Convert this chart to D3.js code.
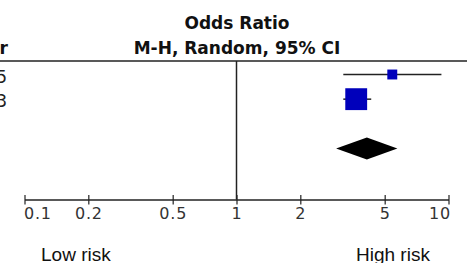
<!DOCTYPE html>
<html>
<head>
<meta charset="utf-8">
<script src="https://cdn.jsdelivr.net/npm/d3@7"></script>
<style>
  body { margin: 0; background: #fff; }
  svg { display: block; }
</style>
</head>
<body>
<svg id="chart" width="467" height="263"></svg>
<script>
// study rows
var years = ["2015", "2013"];
var oddsRatio = [5.43, 3.67];
var ciLow = [3.19, 3.19];
var ciHigh = [9.26, 4.32];
var weights = [17.1, 82.9];

// pooled estimate
var pooledOR = 4.12;
var pooledLow = 2.95;
var pooledHigh = 5.74;

// axis
var tickValues = [0.1, 0.2, 0.5, 1, 2, 5, 10];
var tickLabels = ["0.1", "0.2", "0.5", "1", "2", "5", "10"];

var svg = d3.select("#chart");

var x = d3.scaleLog().domain([0.1, 10]).range([24.5, 448.5]);
var row = d3.scaleLinear().domain([0, 3]).range([74.5, 148.5]);
var box = d3.scaleSqrt().domain([0, 100]).range([0, 24]);

var axisY = 199.5, headerY = 61;

// header
svg.append("text")
    .attr("x", 237).attr("y", 29)
    .attr("text-anchor", "middle")
    .attr("font-family", "DejaVu Sans").attr("font-weight", "bold")
    .attr("font-size", "17px").attr("fill", "#111")
    .text("Odds Ratio");
svg.append("text")
    .attr("x", 237).attr("y", 54)
    .attr("text-anchor", "middle")
    .attr("font-family", "DejaVu Sans").attr("font-weight", "bold")
    .attr("font-size", "17px").attr("fill", "#111")
    .text("M-H, Random, 95% CI");
svg.append("text")
    .attr("x", 8).attr("y", 54)
    .attr("text-anchor", "end")
    .attr("font-family", "DejaVu Sans").attr("font-weight", "bold")
    .attr("font-size", "17px").attr("fill", "#111")
    .text("Year");

svg.append("line")
    .attr("x1", 0).attr("x2", 467)
    .attr("y1", headerY).attr("y2", headerY)
    .attr("stroke", "#222").attr("stroke-width", 1.6);

// line of no effect
svg.append("line")
    .attr("x1", x(1)).attr("x2", x(1))
    .attr("y1", headerY).attr("y2", axisY)
    .attr("stroke", "#222").attr("stroke-width", 1.5);

// year labels (clipped at left edge)
svg.selectAll("text.year")
    .data(years)
    .enter().append("text")
    .attr("class", "year")
    .attr("x", 7)
    .attr("y", function(d, i){ return row(i) + 8; })
    .attr("text-anchor", "end")
    .attr("font-family", "DejaVu Sans")
    .attr("font-size", "17px").attr("fill", "#222")
    .text(function(d){ return d; });

// confidence intervals
svg.selectAll("line.ci")
    .data(years)
    .enter().append("line")
    .attr("class", "ci")
    .attr("x1", function(d, i){ return x(ciLow[i]); })
    .attr("x2", function(d, i){ return x(ciHigh[i]); })
    .attr("y1", function(d, i){ return row(i); })
    .attr("y2", function(d, i){ return row(i); })
    .attr("stroke", "#222").attr("stroke-width", 1.5);

// weighted squares
svg.selectAll("rect.est")
    .data(years)
    .enter().append("rect")
    .attr("class", "est")
    .attr("x", function(d, i){ return x(oddsRatio[i]) - box(weights[i]) / 2; })
    .attr("y", function(d, i){ return row(i) - box(weights[i]) / 2; })
    .attr("width", function(d, i){ return box(weights[i]); })
    .attr("height", function(d, i){ return box(weights[i]); })
    .attr("fill", "#0000bb");

// pooled diamond
var py = row(3), ph = 11;
svg.append("path")
    .attr("d", "M" + x(pooledLow) + "," + py +
               "L" + x(pooledOR) + "," + (py - ph) +
               "L" + x(pooledHigh) + "," + py +
               "L" + x(pooledOR) + "," + (py + ph) + "Z")
    .attr("fill", "#000");

// axis
var xAxis = d3.axisBottom(x)
    .tickValues(tickValues)
    .tickFormat(function(d, i){ return tickLabels[i]; })
    .tickSizeOuter(0)
    .tickPadding(6);

var axisG = svg.append("g")
    .attr("transform", "translate(0," + axisY + ")")
    .call(xAxis);

axisG.select(".domain").attr("stroke", "#222").attr("stroke-width", 1.5);
axisG.selectAll(".tick line")
    .attr("y1", -4.5).attr("y2", 5)
    .attr("stroke", "#222").attr("stroke-width", 1.2);
axisG.selectAll(".tick text")
    .attr("font-family", "DejaVu Sans")
    .attr("font-size", "16px")
    .attr("letter-spacing", "0.8px")
    .attr("fill", "#333")
    .attr("y", 8)
    .attr("text-anchor", function(d, i){
        return i === 0 ? "start" : (i === tickValues.length - 1 ? "end" : "middle");
    })
    .attr("dx", function(d, i){
        return i === 0 ? "-1" : (i === tickValues.length - 1 ? "2" : "0");
    });

// risk labels
svg.append("text")
    .attr("x", 41).attr("y", 261)
    .attr("font-family", "Liberation Sans").attr("font-size", "19px")
    .attr("fill", "#111")
    .text("Low risk");
svg.append("text")
    .attr("x", 356).attr("y", 261)
    .attr("font-family", "Liberation Sans").attr("font-size", "19px")
    .attr("fill", "#111")
    .text("High risk");
</script>
</body>
</html>
